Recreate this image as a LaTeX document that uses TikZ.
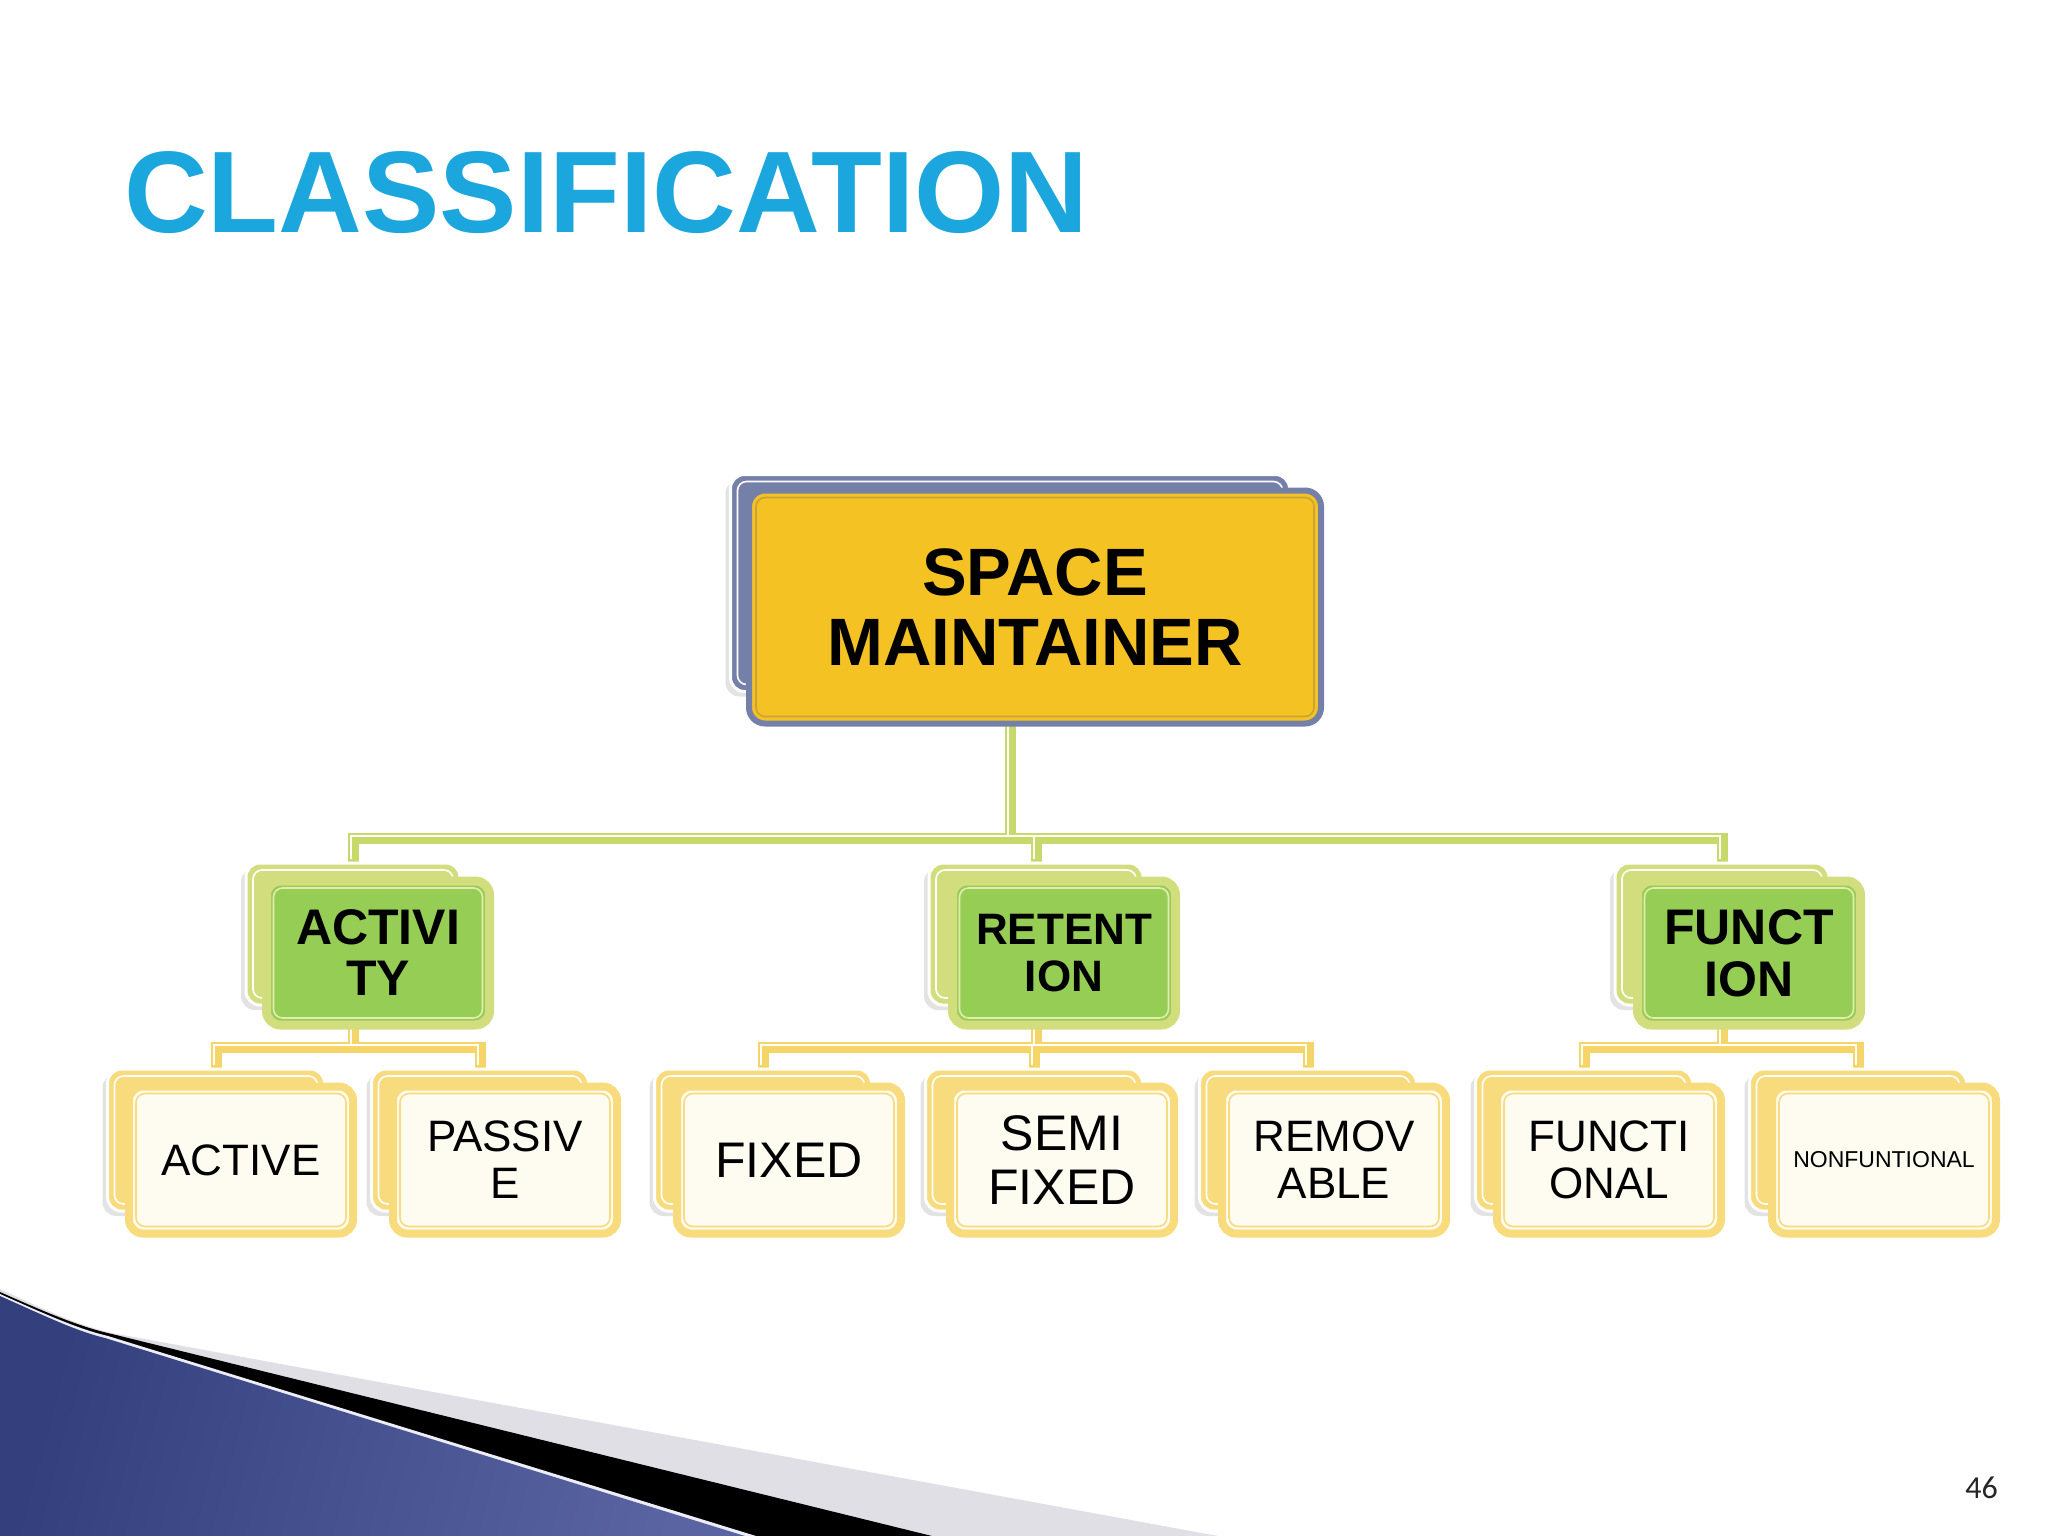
\documentclass[tikz,border=0pt]{standalone}
\usepackage{fontspec}
\setmainfont{Liberation Sans}
\newfontfamily\pagefont{Carlito}
\usetikzlibrary{shadows,backgrounds,calc}
\definecolor{titleblue}{HTML}{1CA6DE}
\definecolor{slate}{HTML}{7480A8}
\definecolor{gold}{HTML}{F5C223}
\definecolor{goldline}{HTML}{C9A23A}
\definecolor{lgreen}{HTML}{D2DE7E}
\definecolor{cgreen}{HTML}{C8D96C}
\definecolor{mgreen}{HTML}{96CE55}
\definecolor{lyellow}{HTML}{F8DB7C}
\definecolor{cyellow}{HTML}{F5D468}
\definecolor{cream}{HTML}{FEFBF1}
\definecolor{swgrey}{HTML}{DFDFE5}
\definecolor{navyA}{HTML}{34407E}
\definecolor{navyB}{HTML}{7E88C0}
\definecolor{navyC}{HTML}{5A64A2}
\tikzset{
  inline/.style={path picture={\draw[#1, line width=1.6pt, rounded corners=9pt]
      ([shift={(7pt,-7pt)}]path picture bounding box.north west) rectangle
      ([shift={(-7pt,7pt)}]path picture bounding box.south east);}},
  backbox/.style={rounded corners=14pt, draw=white, line width=3pt, inner sep=0pt,
      drop shadow={shadow xshift=-5pt, shadow yshift=-5pt, opacity=0.22},
      inline=white},
  topback/.style={backbox, fill=slate, minimum width=559pt, minimum height=217pt},
  topfront/.style={rounded corners=16pt, fill=gold, draw=slate, line width=6pt,
      minimum width=572pt, minimum height=233pt, inline=goldline, align=center,
      inner sep=0pt, font=\fontsize{67}{70}\selectfont\bfseries},
  grnback/.style={backbox, fill=lgreen, minimum width=214pt, minimum height=142pt},
  grnfront/.style={rounded corners=14pt, fill=mgreen, draw=lgreen, line width=9pt,
      minimum width=223pt, minimum height=144pt, inline=lgreen!60!white, align=center,
      inner sep=0pt},
  ylwback/.style={backbox, fill=lyellow, minimum width=217pt, minimum height=142pt},
  ylwfront/.style={rounded corners=14pt, fill=cream, draw=lyellow, line width=8pt,
      minimum width=224pt, minimum height=147pt, inline=lyellow, align=center,
      inner sep=0pt, font=\fontsize{44}{47}\selectfont},
  gline/.style={draw=cgreen, line width=11pt},
  yline/.style={draw=cyellow, line width=11pt},
  wline/.style={draw=white, line width=2pt},
}
\begin{document}
\begin{tikzpicture}[x=1pt,y=-1pt]
\useasboundingbox (0,0) rectangle (2048,1536);

% title
\node[anchor=base west, inner sep=0pt, text=titleblue,
      font=\fontsize{116}{116}\selectfont\bfseries] (title) at (124,232) {CLASSIFICATION};

% top box
\node[topback] (spb) at (1010,583) {};
\node[topfront] (sp) at (1035,607) {SPACE\\MAINTAINER};

% second level
\node[grnback] (actb) at (353,934) {};
\node[grnfront, font=\fontsize{50}{51}\selectfont\bfseries] (act) at (378,953) {ACTIVI\\TY};
\node[grnback] (retb) at (1036,934) {};
\node[grnfront, font=\fontsize{44}{47}\selectfont\bfseries] (ret) at (1064,953) {RETENT\\ION};
\node[grnback] (funb) at (1722,934) {};
\node[grnfront, font=\fontsize{50}{52}\selectfont\bfseries] (fun) at (1749,953) {FUNCT\\ION};

% third level
\node[ylwback] (activeb) at (216,1140) {};
\node[ylwfront] (active) at (241,1160) {ACTIVE};
\node[ylwback] (passiveb) at (480,1140) {};
\node[ylwfront] (passive) at (505,1160) {PASSIV\\E};
\node[ylwback] (fixedb) at (763,1140) {};
\node[ylwfront, font=\fontsize{50}{54}\selectfont] (fixed) at (789,1160) {FIXED};
\node[ylwback] (semib) at (1034,1140) {};
\node[ylwfront, font=\fontsize{50}{54}\selectfont] (semi) at (1062,1160) {SEMI\\FIXED};
\node[ylwback] (removb) at (1308,1140) {};
\node[ylwfront] (remov) at (1334,1160) {REMOV\\ABLE};
\node[ylwback] (functb) at (1584,1140) {};
\node[ylwfront] (funct) at (1609,1160) {FUNCTI\\ONAL};
\node[ylwback] (nonfb) at (1858,1140) {};
\node[ylwfront, font=\fontsize{23}{26}\selectfont] (nonf) at (1884,1160) {NONFUNTIONAL};

% page number
\node[anchor=base east, inner sep=0pt, text=black!85,
      font=\pagefont\fontsize{32}{32}\selectfont] (pg) at (1998,1498) {46};

\begin{pgfonlayer}{background}
  \fill[white] (0,0) rectangle (2048,1536);
  % connectors
  \coordinate (busA) at (1010,838);
  \coordinate (busB) at (353,1047);
  \coordinate (busC) at (1036,1047);
  \coordinate (busD) at (1722,1047);
  \draw[gline] (spb.south) -- (busA) -| (actb.north);
  \draw[gline] (busA) -| (retb.north);
  \draw[gline] (busA) -| (funb.north);
  \draw[yline] (actb.south) -- (busB) -| (activeb.north);
  \draw[yline] (busB) -| (passiveb.north);
  \draw[yline] (retb.south) -- (busC) -| (fixedb.north);
  \draw[yline] (busC) -| (semib.north);
  \draw[yline] (busC) -| (removb.north);
  \draw[yline] (funb.south) -- (busD) -| (functb.north);
  \draw[yline] (busD) -| (nonfb.north);
  \begin{scope}[transform canvas={shift={(-2.5pt,2.5pt)}}]
  \draw[wline] (spb.south) -- (busA) -| (actb.north);
  \draw[wline] (busA) -| (retb.north);
  \draw[wline] (busA) -| (funb.north);
  \draw[wline] (actb.south) -- (busB) -| (activeb.north);
  \draw[wline] (busB) -| (passiveb.north);
  \draw[wline] (retb.south) -- (busC) -| (fixedb.north);
  \draw[wline] (busC) -| (semib.north);
  \draw[wline] (busC) -| (removb.north);
  \draw[wline] (funb.south) -- (busD) -| (functb.north);
  \draw[wline] (busD) -| (nonfb.north);
  \end{scope}

  % bottom-left swoosh
  \fill[swgrey] (0,1289) .. controls (45,1310) and (80,1326) .. (112,1333) -- (1218,1536) -- (0,1536) -- cycle;
  \fill[black] (0,1292) .. controls (45,1312) and (80,1327) .. (112,1334) -- (932,1536) -- (0,1536) -- cycle;
  \fill[white!85!navyB] (0,1294) .. controls (45,1314) and (78,1329) .. (108,1336) -- (756,1536) -- (0,1536) -- cycle;
  \shade[left color=navyA, middle color=navyB, right color=navyC, shading angle=75]
     (0,1296) .. controls (45,1316) and (76,1331) .. (105,1338) -- (745,1536) -- (0,1536) -- cycle;
\end{pgfonlayer}
\end{tikzpicture}
\end{document}
